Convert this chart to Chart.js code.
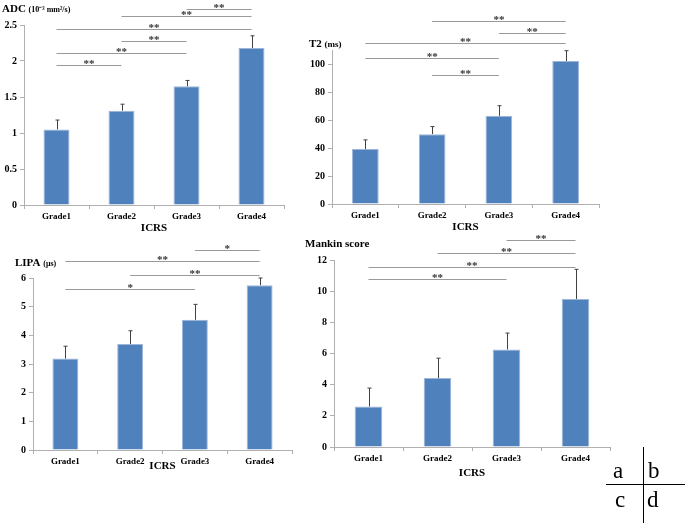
<!DOCTYPE html>
<html>
<head>
<meta charset="utf-8">
<script src="https://cdn.jsdelivr.net/npm/chart.js@4.4.1/dist/chart.umd.min.js"></script>
<style>
  body { margin: 0; background: #fff; width: 685px; height: 523px; position: relative; overflow: hidden; }
  canvas { position: absolute; }
  .hl { position: absolute; background: #000; }
  .lt { position: absolute; font-family: "Liberation Serif", serif; font-size: 23px; line-height: 1; color: #000; }
</style>
</head>
<body>
<canvas id="cA" style="left:0;top:0" width="300" height="240"></canvas>
<canvas id="cB" style="left:300px;top:0" width="320" height="240"></canvas>
<canvas id="cC" style="left:0;top:235px" width="300" height="240"></canvas>
<canvas id="cD" style="left:300px;top:215px" width="320" height="265"></canvas>

<!-- a b / c d key -->
<div class="hl" style="left:606px;top:484px;width:79px;height:1px"></div>
<div class="hl" style="left:643px;top:447px;width:1px;height:76px"></div>
<div class="lt" style="left:613px;top:459px">a</div>
<div class="lt" style="left:648px;top:459px">b</div>
<div class="lt" style="left:615px;top:488px">c</div>
<div class="lt" style="left:647px;top:488px">d</div>

<script>
const grades = ["Grade1", "Grade2", "Grade3", "Grade4"];

// ADC (10-3 mm2/s)
const adcMean = [1.05, 1.31, 1.65, 2.18];
const adcSd = [0.13, 0.09, 0.08, 0.17];
const adcTicks = [0, 0.5, 1, 1.5, 2, 2.5];
// [von, bis, Text, Höhe]
const adcSig = [[0, 1, "**", 1.94], [0, 2, "**", 2.11], [1, 2, "**", 2.28], [0, 3, "**", 2.44], [1, 3, "**", 2.63], [2, 3, "**", 2.72]];

// T2 (ms)
const t2Mean = [39.2, 49.9, 63.0, 102.1];
const t2Sd = [6.6, 5.4, 7.2, 7.4];
const t2Ticks = [0, 20, 40, 60, 80, 100];
const t2Sig = [[1, 2, "**", 91.8], [0, 2, "**", 104.3], [0, 3, "**", 115], [2, 3, "**", 122.2], [1, 3, "**", 131]];

// LIPA (μs)
const lipaMean = [3.19, 3.70, 4.54, 5.75];
const lipaSd = [0.43, 0.46, 0.54, 0.25];
const lipaTicks = [0, 1, 2, 3, 4, 5, 6];
const lipaSig = [[0, 2, "*", 5.63], [1, 3, "**", 6.12], [0, 3, "**", 6.59], [2, 3, "*", 6.99]];

// Mankin score
const mankinMean = [2.6, 4.42, 6.26, 9.5];
const mankinSd = [1.18, 1.28, 1.05, 1.9];
const mankinTicks = [0, 2, 4, 6, 8, 10, 12];
const mankinSig = [[0, 2, "**", 10.77], [0, 3, "**", 11.58], [1, 3, "**", 12.44], [2, 3, "**", 13.29]];

const serif = "'Liberation Serif', 'Times New Roman', serif";
const axisGray = "#b0b0b0";

// Fehlerbalken, Signifikanzlinien und y-Titel
const annot = {
  id: "annot",
  afterDatasetsDraw(chart, args, o) {
    const ctx = chart.ctx;
    const xs = chart.scales.x, ys = chart.scales.y;
    const meta = chart.getDatasetMeta(0);
    ctx.save();
    ctx.lineWidth = 1;
    ctx.strokeStyle = "#404040";
    meta.data.forEach((bar, i) => {
      const top = ys.getPixelForValue(o.mean[i] + o.sd[i]);
      const bx = Math.round(bar.x) + 0.5;
      ctx.beginPath();
      ctx.moveTo(bx, bar.y);
      ctx.lineTo(bx, top);
      ctx.moveTo(bx - 2, top);
      ctx.lineTo(bx + 2, top);
      ctx.stroke();
    });

    ctx.font = "bold 11px " + serif;
    ctx.textAlign = "center";
    ctx.textBaseline = "alphabetic";
    o.sig.forEach(([a, b, txt, v]) => {
      const x1 = xs.getPixelForValue(a), x2 = xs.getPixelForValue(b);
      const py = Math.round(ys.getPixelForValue(v)) + 0.5;
      ctx.strokeStyle = "#9a9a9a";
      ctx.beginPath();
      ctx.moveTo(x1, py);
      ctx.lineTo(x2, py);
      ctx.stroke();
      ctx.fillStyle = "#333";
      ctx.fillText(txt, (x1 + x2) / 2, py + 1.5);
    });

    ctx.textAlign = "left";
    ctx.fillStyle = "#000";
    ctx.font = "bold 11px " + serif;
    ctx.fillText(o.title, o.tx, o.ty);
    if (o.unit) {
      const w = ctx.measureText(o.title + " ").width;
      ctx.font = "bold " + o.unitSize + "px " + serif;
      ctx.fillText(o.unit, o.tx + w, o.ty);
    }
    ctx.restore();
  }
};

function panel(id, mean, sd, ticks, max, sig, title, unit, box) {
  return new Chart(document.getElementById(id), {
    type: "bar",
    data: {
      labels: grades,
      datasets: [{
        data: mean,
        backgroundColor: "#4f81bd",
        borderColor: "#9db6d9",
        borderWidth: 1,
        categoryPercentage: 0.4,
        barPercentage: 1
      }]
    },
    options: {
      responsive: false,
      animation: false,
      layout: { padding: { top: box.top, right: box.right, left: 0, bottom: 0 } },
      plugins: {
        legend: { display: false },
        tooltip: { enabled: false },
        annot: { mean, sd, sig, title, unit, unitSize: box.us, tx: box.tx, ty: box.ty }
      },
      scales: {
        x: {
          grid: { drawOnChartArea: false, tickLength: 4, color: axisGray },
          border: { color: axisGray },
          ticks: { color: "#000", font: { family: serif, weight: "bold", size: 9 }, padding: 2, maxRotation: 0 },
          title: { display: true, text: "ICRS", color: "#000", font: { family: serif, weight: "bold", size: 11 }, padding: { top: 0, bottom: box.pb } },
          afterFit: s => { s.height = box.xh; }
        },
        y: {
          min: 0,
          max: max,
          grid: { drawOnChartArea: false, tickLength: 4, color: axisGray },
          border: { color: axisGray },
          ticks: { color: "#000", font: { family: serif, weight: "bold", size: 10 }, padding: 3, callback: v => String(v) },
          afterBuildTicks: s => { s.ticks = ticks.map(v => ({ value: v })); },
          afterFit: s => { s.width = box.yw; }
        }
      }
    },
    plugins: [annot]
  });
}

panel("cA", adcMean, adcSd, adcTicks, 2.5, adcSig, "ADC", "(10⁻³ mm²/s)",
  { top: 25, right: 16, yw: 24, xh: 35, pb: 5, tx: 2, ty: 12, us: 8 });
panel("cB", t2Mean, t2Sd, t2Ticks, 110, t2Sig, "T2", "(ms)",
  { top: 50, right: 21, yw: 32, xh: 36, pb: 6, tx: 9, ty: 47, us: 9 });
panel("cC", lipaMean, lipaSd, lipaTicks, 6, lipaSig, "LIPA", "(μs)",
  { top: 43, right: 8, yw: 33, xh: 25, pb: 2, tx: 15, ty: 31, us: 8 });
panel("cD", mankinMean, mankinSd, mankinTicks, 12, mankinSig, "Mankin score", "",
  { top: 45, right: 10, yw: 34, xh: 33, pb: 0, tx: 5, ty: 32, us: 8 });
</script>
</body>
</html>
